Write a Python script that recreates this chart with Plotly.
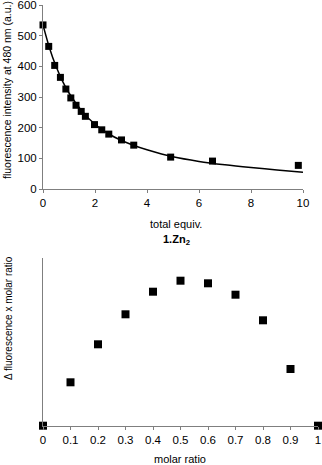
import plotly.graph_objects as go

# top panel: titration data (1.Zn2)
equiv = [0, 0.22, 0.45, 0.67, 0.88, 1.07, 1.27, 1.47, 1.63, 1.98, 2.26, 2.53, 3.02, 3.49, 4.91, 6.52, 9.82]
intensity = [535, 465, 403, 364, 326, 297, 273, 253, 237, 210, 193, 179, 160, 143, 104, 91, 77]

# fitted curve
fit_x = [0, 0.25, 0.5, 0.75, 1, 1.5, 2, 2.5, 3, 3.5, 4, 5, 6, 7, 8, 9, 10]
fit_y = [535, 460, 400, 352, 313, 254, 211, 181, 159, 142, 128, 105, 90, 79, 70, 62, 55]

# bottom panel: Job plot
molar_ratio = [0, 0.1, 0.2, 0.3, 0.4, 0.5, 0.6, 0.7, 0.8, 0.9, 1.0]
job_val = [0, 43.4, 81.4, 111.4, 134, 145, 142.4, 131, 105.4, 56.7, 0]
job_ticks = ["0", "0.1", "0.2", "0.3", "0.4", "0.5", "0.6", "0.7", "0.8", "0.9", "1"]

W, H = 322, 465
FONT = "Arial, Liberation Sans, sans-serif"
AX = "#7f7f7f"

fig = go.Figure()
fig.add_trace(go.Scatter(x=fit_x, y=fit_y, mode="lines", line=dict(color="black", width=1.5, shape="spline"),
                         xaxis="x", yaxis="y"))
fig.add_trace(go.Scatter(x=equiv, y=intensity, mode="markers",
                         marker=dict(symbol="square", size=7, color="black"), xaxis="x", yaxis="y",
                         cliponaxis=False))
fig.add_trace(go.Scatter(x=molar_ratio, y=job_val, mode="markers",
                         marker=dict(symbol="square", size=8, color="black"), xaxis="x2", yaxis="y2",
                         cliponaxis=False))

axis_common = dict(showgrid=False, zeroline=False, showline=True, linecolor=AX, linewidth=1,
                   ticks="outside", tickcolor=AX, ticklen=3, automargin=False,
                   ticklabeloverflow="allow",
                   tickfont=dict(family=FONT, size=11.5, color="black"))

fig.update_layout(
    width=W, height=H,
    margin=dict(l=0, r=0, t=0, b=0),
    paper_bgcolor="white", plot_bgcolor="white",
    showlegend=False,
    font=dict(family=FONT, color="black"),
    xaxis=dict(domain=[43 / W, 303 / W], range=[0, 10], tickvals=[0, 2, 4, 6, 8, 10],
               anchor="y", **axis_common),
    yaxis=dict(domain=[(H - 189) / H, (H - 5) / H], range=[0, 600], dtick=100,
               anchor="x", **axis_common),
    xaxis2=dict(domain=[43 / W, 318 / W], range=[0, 1], tickvals=molar_ratio, ticktext=job_ticks,
                anchor="y2", **axis_common),
    yaxis2=dict(domain=[(H - 425.7) / H, (H - 258) / H], range=[0, 167.7], showticklabels=False,
                anchor="x2", showgrid=False, zeroline=False, showline=True, linecolor=AX, ticks="",
                automargin=False),
)

ann = [
    dict(text="total equiv.", x=176 / W, y=1 - 224 / H, size=11, angle=0),
    dict(text="<b>1.Zn<sub>2</sub></b>", x=176 / W, y=1 - 240 / H, size=11, angle=0),
    dict(text="fluorescence intensity at 480 nm (a.u.)", x=7 / W, y=1 - 90 / H, size=10.5, angle=-90),
    dict(text="molar ratio", x=180 / W, y=1 - 459 / H, size=11, angle=0),
    dict(text="\u0394 fluorescence x molar ratio", x=8 / W, y=1 - 318 / H, size=10, angle=-90),
]
for a in ann:
    fig.add_annotation(text=a["text"], x=a["x"], y=a["y"], xref="paper", yref="paper",
                       showarrow=False, textangle=a["angle"], xanchor="center", yanchor="middle",
                       font=dict(family=FONT, size=a["size"], color="black"))

# drop the browser's default 8px body margin so the figure fills the window exactly
fig.write_html("out.html", config={"displayModeBar": False},
               post_script="document.body.style.margin='0';")
